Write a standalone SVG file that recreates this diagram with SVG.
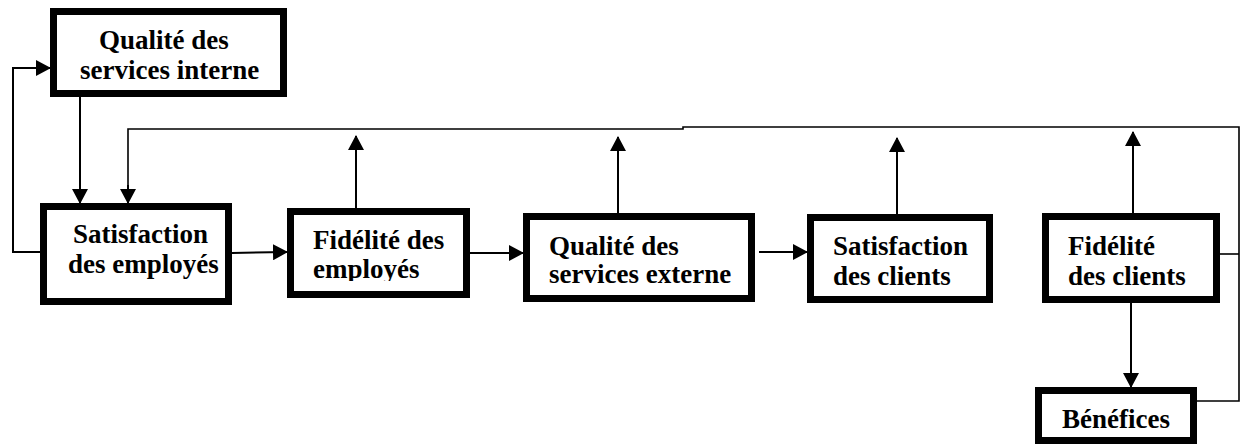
<svg xmlns="http://www.w3.org/2000/svg" width="1242" height="444" viewBox="0 0 1242 444">
  <style>
    .box { fill: #ffffff; stroke: #000000; stroke-width: 7; }
    .lbl { font-family: "Liberation Serif", "Times New Roman", serif; font-weight: bold; font-size: 27px; fill: #000000; }
    .link { fill: none; stroke: #000000; stroke-width: 2; }
    .thin { fill: none; stroke: #000000; stroke-width: 1.6; }
  </style>
  <defs>
    <marker id="head" markerUnits="userSpaceOnUse" viewBox="0 0 15 16" refX="14" refY="8" markerWidth="15" markerHeight="16" orient="auto">
      <path d="M0,0 L15,8 L0,16 Z" fill="#000000"/>
    </marker>
    <clipPath id="cut-employes">
      <rect x="290" y="200" width="180" height="81"/>
    </clipPath>
  </defs>

  <rect width="1242" height="444" fill="#ffffff"/>

  <!-- connectors -->
  <g id="connectors">
    <!-- feedback loop from profits / customer loyalty back to employee satisfaction -->
    <path class="thin" d="M1197,401 H1239 V127 H683 V129 H128 V190"/>
    <path class="thin" d="M1220,254 H1239"/>
    <path class="link" d="M128,185 V203" marker-end="url(#head)"/>
    <!-- internal quality to employee satisfaction -->
    <path class="link" d="M80,97 V203" marker-end="url(#head)"/>
    <!-- employee satisfaction back to internal quality -->
    <path class="link" d="M40,252 H13 V68 H50" marker-end="url(#head)"/>
    <!-- chain left to right -->
    <path class="link" d="M232,253 L287,252" marker-end="url(#head)"/>
    <path class="link" d="M470,253 H523" marker-end="url(#head)"/>
    <path class="link" d="M759,252 H807" marker-end="url(#head)"/>
    <!-- upward arrows into the feedback line -->
    <path class="link" d="M356,208 V136" marker-end="url(#head)"/>
    <path class="link" d="M618,213 V137" marker-end="url(#head)"/>
    <path class="link" d="M897,214 V138" marker-end="url(#head)"/>
    <path class="link" d="M1133,213 V132" marker-end="url(#head)"/>
    <!-- customer loyalty to profits -->
    <path class="link" d="M1131,303 V387" marker-end="url(#head)"/>
  </g>

  <g id="qualite-interne">
    <rect class="box" x="53.5" y="11.5" width="230" height="82"/>
    <text class="lbl" x="99" y="49">Qualité des</text>
    <text class="lbl" x="80" y="79">services interne</text>
  </g>

  <g id="satisfaction-employes">
    <rect class="box" x="43.5" y="206.5" width="185" height="95"/>
    <text class="lbl" x="73" y="243">Satisfaction</text>
    <text class="lbl" x="68" y="273">des employés</text>
  </g>

  <g id="fidelite-employes">
    <rect class="box" x="290.5" y="211.5" width="176" height="83"/>
    <text class="lbl" x="313" y="249">Fidélité des</text>
    <text class="lbl" x="313" y="278" clip-path="url(#cut-employes)">employés</text>
  </g>

  <g id="qualite-externe">
    <rect class="box" x="526.5" y="216.5" width="225" height="82"/>
    <text class="lbl" x="549" y="255">Qualité des</text>
    <text class="lbl" x="549" y="283">services externe</text>
  </g>

  <g id="satisfaction-clients">
    <rect class="box" x="810.5" y="217.5" width="179" height="82"/>
    <text class="lbl" x="833" y="255">Satisfaction</text>
    <text class="lbl" x="833" y="285">des clients</text>
  </g>

  <g id="fidelite-clients">
    <rect class="box" x="1045.5" y="216.5" width="171" height="83"/>
    <text class="lbl" x="1068" y="255">Fidélité</text>
    <text class="lbl" x="1068" y="285">des clients</text>
  </g>

  <g id="benefices">
    <rect class="box" x="1038.5" y="390.5" width="155" height="50"/>
    <text class="lbl" x="1062" y="428">Bénéfices</text>
  </g>
</svg>
